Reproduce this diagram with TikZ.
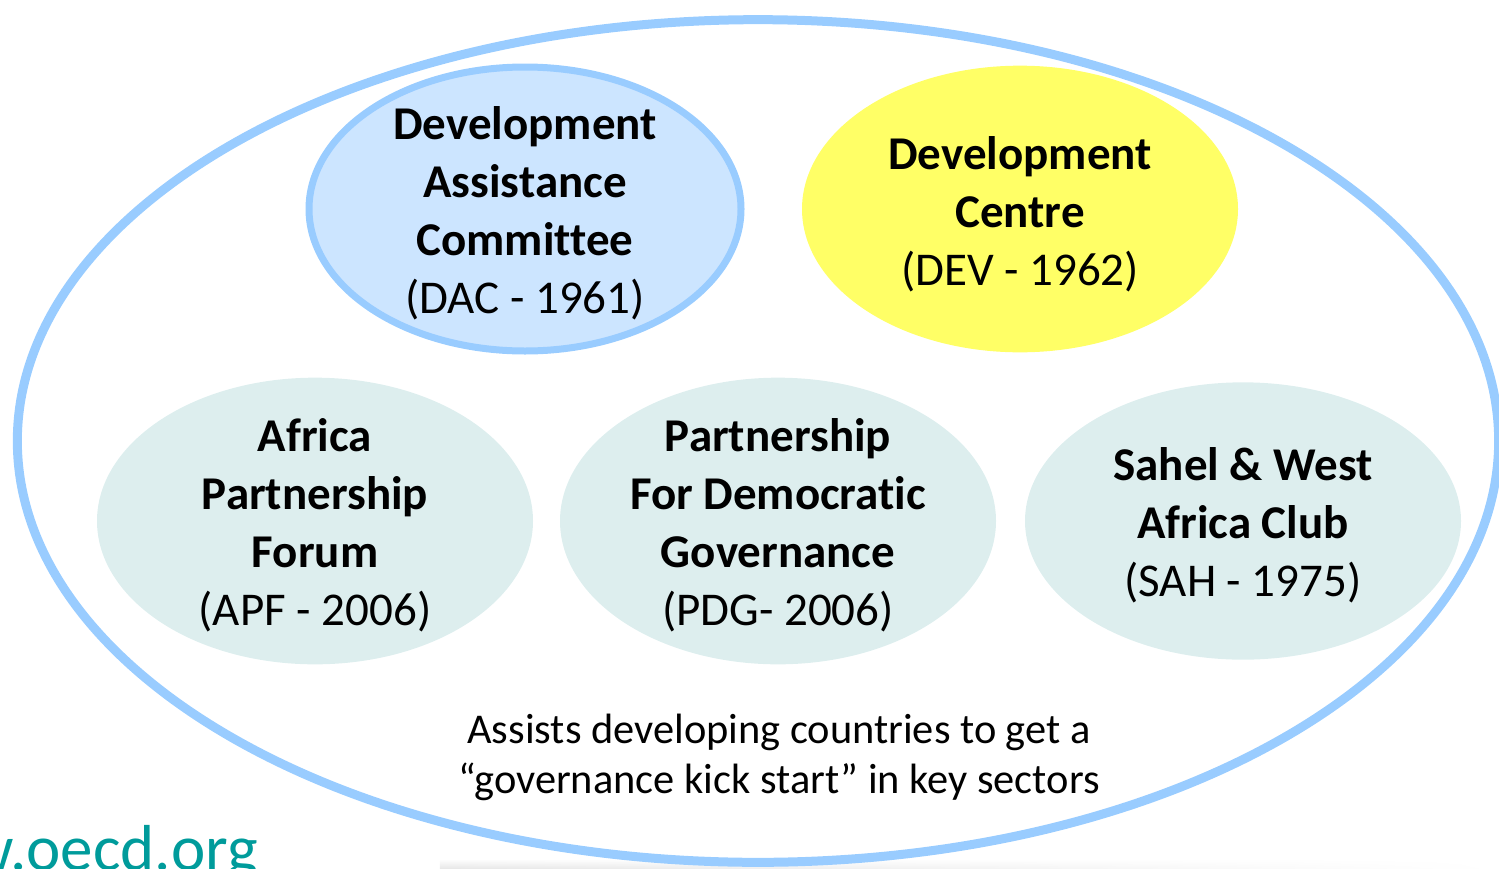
\documentclass[tikz,border=0pt]{standalone}
\usepackage{fontspec}
\setmainfont[Ligatures=NoCommon]{Carlito}
\usetikzlibrary{shapes.geometric,fadings}
\definecolor{ringblue}{HTML}{99CCFF}
\definecolor{dacfill}{HTML}{CCE5FF}
\definecolor{devfill}{HTML}{FFFF66}
\definecolor{tealfill}{HTML}{DDEEEE}
\definecolor{oecdteal}{HTML}{009B9B}
\tikzset{
  ringshape/.style={ellipse, draw=ringblue, line width=6.75pt, minimum width=1111pt, minimum height=632pt, inner sep=0pt},
  blob/.style={ellipse, inner sep=0pt, minimum width=327pt, minimum height=215pt},
  dacshape/.style={blob, fill=dacfill, draw=ringblue, line width=5.25pt, minimum width=324pt, minimum height=213pt},
  devshape/.style={blob, fill=devfill},
  tealshape/.style={blob, fill=tealfill},
  lbl/.style={align=center, inner sep=0pt, font=\fontsize{35.25}{43.5}\selectfont},
  note/.style={align=center, inner sep=0pt, font=\fontsize{31.8}{37.5}\selectfont},
}
\begin{document}
\begin{tikzpicture}[x=0.75pt, y=-0.75pt]
\useasboundingbox (0,0) rectangle (1499,868);
\shade[top color=white, bottom color=black!9, path fading=east] (440,859) rectangle (1499,868);
\node[ringshape] (ring) at (758,441) {};
\node[dacshape] (dac) at (525,209) {};
\node[lbl] (daclbl) at ([yshift=-3.5pt]dac.center) {\textbf{Development}\\\textbf{Assistance}\\\textbf{Committee}\\(DAC - 1961)};
\node[devshape] (dev) at (1020,209) {};
\node[lbl] (devlbl) at ([yshift=-4pt]dev.center) {\textbf{Development}\\\textbf{Centre}\\(DEV - 1962)};
\node[tealshape] (apf) at (315,521) {};
\node[lbl] (apflbl) at ([yshift=-3pt]apf.center) {\textbf{Africa}\\\textbf{Partnership}\\\textbf{Forum}\\(APF - 2006)};
\node[tealshape] (pdg) at (778,521) {};
\node[lbl] (pdglbl) at ([yshift=-3pt]pdg.center) {\textbf{Partnership}\\\textbf{For Democratic}\\\textbf{Governance}\\(PDG- 2006)};
\node[tealshape, minimum height=208pt] (sah) at (1243,521) {};
\node[lbl] (sahlbl) at ([yshift=-3pt]sah.center) {\textbf{Sahel \& West}\\\textbf{Africa Club}\\(SAH - 1975)};
\node[note] (assist) at (779,757) {Assists developing countries to get a\\“governance kick start” in key sectors};
\node[anchor=base east, inner sep=0pt, text=oecdteal, font=\fontsize{48.75}{58}\selectfont] (web) at (258,870) {www.oecd.org};
\end{tikzpicture}
\end{document}
